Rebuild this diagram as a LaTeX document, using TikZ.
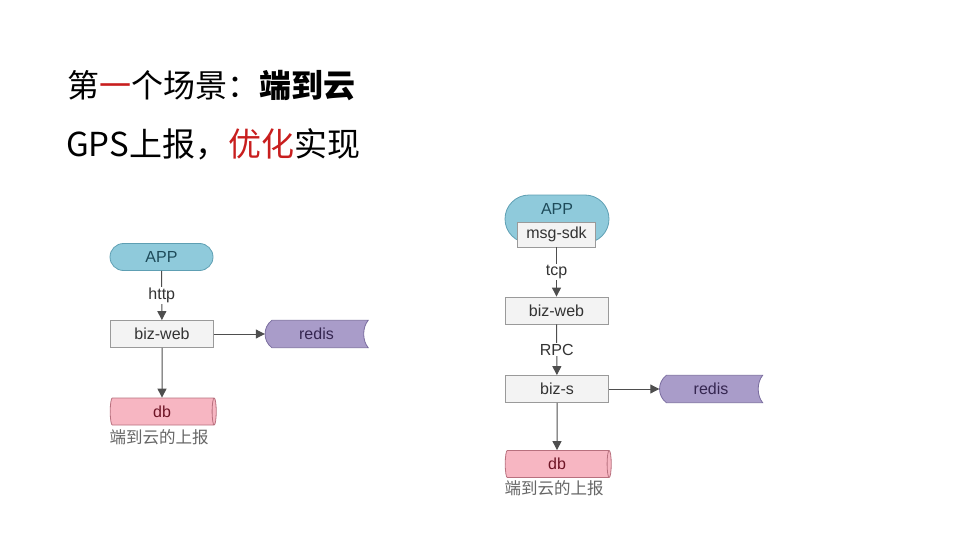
\documentclass[tikz,border=0pt]{standalone}
\usepackage{fontspec}
\setmainfont{Liberation Sans}
\newfontfamily\cjk{Noto Sans CJK SC}
\usetikzlibrary{arrows.meta,shapes.geometric,calc,backgrounds}
\definecolor{appfill}{HTML}{8FCADB}
\definecolor{appdraw}{HTML}{5E9FB3}
\definecolor{apptext}{HTML}{1E4B5A}
\definecolor{boxfill}{HTML}{F3F3F3}
\definecolor{boxdraw}{HTML}{9A9A9A}
\definecolor{redisfill}{HTML}{A99CC9}
\definecolor{redisdraw}{HTML}{7A6D9F}
\definecolor{redistext}{HTML}{352650}
\definecolor{dbfill}{HTML}{F7B6C2}
\definecolor{dbdraw}{HTML}{B8707E}
\definecolor{dbtext}{HTML}{6E1526}
\definecolor{arrowc}{HTML}{4E4E4E}
\definecolor{titlered}{HTML}{C81E1E}
\newcommand\storedshape[1]{%
  \begin{pgfonlayer}{background}
  \path[draw=redisdraw, fill=redisfill, line width=0.8pt]
    ($(#1.north west)+(7,0)$) -- (#1.north east)
    .. controls ($(#1.north east)+(-6,7)$) and ($(#1.south east)+(-6,-7)$) .. (#1.south east)
    -- ($(#1.south west)+(7,0)$)
    .. controls ($(#1.south west)+(-2,-7)$) and ($(#1.north west)+(-2,7)$) .. cycle;
  \end{pgfonlayer}}
\tikzset{
  bizbox/.style={draw=boxdraw, fill=boxfill, line width=0.8pt, minimum width=103pt, minimum height=27pt, inner sep=0pt, font=\fontsize{16}{16}\selectfont, text=black!80},
  appbox/.style={draw=appdraw, fill=appfill, line width=0.8pt, rounded corners=13.5pt, minimum width=103pt, minimum height=27pt, inner sep=0pt, font=\fontsize{16}{16}\selectfont, text=apptext},
  redisbox/.style={minimum width=103pt, minimum height=27pt, inner sep=0pt, font=\fontsize{16}{16}\selectfont, text=redistext},
  dbbox/.style={cylinder, shape border rotate=0, shape aspect=0.35, draw=dbdraw, fill=dbfill, line width=0.8pt, minimum width=27pt, minimum height=106pt, inner sep=0pt, font=\fontsize{16}{16}\selectfont, text=dbtext},
  edgelbl/.style={fill=white, font=\fontsize{16}{16}\selectfont, text=black!80, inner sep=1pt},
  caption/.style={font=\cjk\fontsize{16.5}{17}\selectfont, text=black!60, inner sep=0pt},
  arr/.style={draw=arrowc, line width=1pt, -{Triangle[width=9pt,length=9pt]}},
}
\begin{document}
\begin{tikzpicture}[x=1pt,y=-1pt]
\useasboundingbox (0,0) rectangle (960,540);
% titles
\node[anchor=west, inner sep=0pt, font=\cjk\fontsize{32}{32}\selectfont] (t1) at (67,86)
  {第{\color{titlered}一}个场景：\textbf{端到云}};
\node[anchor=west, inner sep=0pt, font=\cjk\fontsize{33}{33}\selectfont] (t2) at (66,144)
  {GPS上报，{\color{titlered}优化}实现};
% left diagram
\node[appbox] (app1) at (161.5,257) {APP};
\node[bizbox] (web1) at (162,334) {biz-web};
\node[redisbox] (redis1) at (316.5,334) {redis};
\storedshape{redis1}
\node[dbbox] (db1) at (162,411.5) {db};
\node[caption] (cap1) at (159,437) {端到云的上报};
\draw[arr] (app1) -- node[edgelbl] {http} (web1);
\draw[arr] (web1) -- (redis1);
\draw[arr] (web1.south) -- (db1.north);
% right diagram
\node[draw=appdraw, fill=appfill, line width=0.8pt, rounded corners=24pt, minimum width=104pt, minimum height=48pt] (app2) at (557,219) {};
\node[text=apptext, font=\fontsize{16}{16}\selectfont, inner sep=0pt] (app2t) at (557,209) {APP};
\node[bizbox, minimum width=78pt, minimum height=25pt] (sdk) at (556.5,234.5) {msg-sdk};
\node[bizbox] (web2) at (556.5,310.5) {biz-web};
\node[bizbox] (bizs) at (557,389) {biz-s};
\node[redisbox] (redis2) at (711,389) {redis};
\storedshape{redis2}
\node[dbbox] (db2) at (557,464) {db};
\node[caption] (cap2) at (554,488) {端到云的上报};
\draw[arr] (sdk) -- node[edgelbl] {tcp} (web2);
\draw[arr] (web2) -- node[edgelbl] {RPC} (bizs);
\draw[arr] (bizs) -- (redis2);
\draw[arr] (bizs.south) -- (db2.north);
\end{tikzpicture}
\end{document}
